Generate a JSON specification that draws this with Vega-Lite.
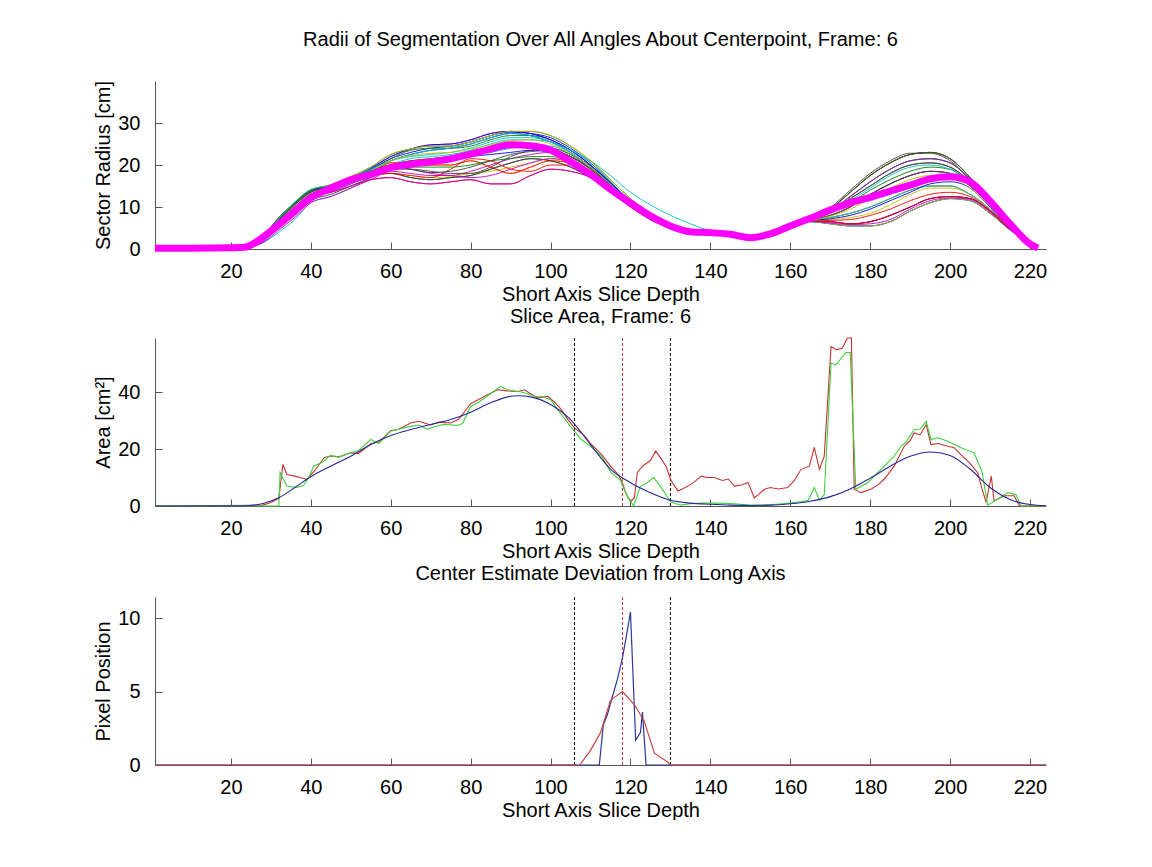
{
  "$schema": "https://vega.github.io/schema/vega-lite/v6.json",
  "background": "white",
  "padding": {"left": 93, "top": 29, "right": 0, "bottom": 0},
  "spacing": 2,
  "config": {
    "font": "Liberation Sans",
    "view": {"stroke": null},
    "axis": {"grid": false, "domainColor": "#555555", "tickColor": "#555555", "tickSize": -7, "labelFontSize": 20, "labelColor": "black", "titleFontSize": 20, "titleFontWeight": "normal", "titleColor": "black", "labelFont": "Liberation Sans", "titleFont": "Liberation Sans"},
    "axisX": {"labelPadding": 19, "titlePadding": 3, "labelFlush": false},
    "axisY": {"labelPadding": 22, "titlePadding": 4},
    "title": {"fontSize": 20, "fontWeight": "normal", "font": "Liberation Sans", "color": "black", "anchor": "middle"}
  },
  "datasets": {
    "radii": [
{"s":1,"x":24,"r":0.3},{"s":1,"x":28,"r":2.5},{"s":1,"x":32,"r":6.5},{"s":1,"x":36,"r":10.5},{"s":1,"x":40,"r":13.5},{"s":1,"x":45,"r":15},{"s":1,"x":50,"r":17},{"s":1,"x":55,"r":19},{"s":1,"x":60,"r":21.5},{"s":1,"x":65,"r":23},{"s":1,"x":70,"r":24},{"s":1,"x":75,"r":24.5},{"s":1,"x":80,"r":25.5},{"s":1,"x":85,"r":27},{"s":1,"x":90,"r":27.8},{"s":1,"x":95,"r":27.5},{"s":1,"x":100,"r":26.5},{"s":1,"x":105,"r":24},{"s":1,"x":110,"r":20.5},{"s":1,"x":115,"r":16},{"s":1,"x":120,"r":11.5},{"s":1,"x":125,"r":8},{"s":1,"x":130,"r":5.5},{"s":1,"x":135,"r":4.3},{"s":1,"x":140,"r":4},{"s":1,"x":150,"r":2.7},{"s":1,"x":160,"r":5.5},{"s":1,"x":165,"r":6.8},{"s":1,"x":170,"r":9.5},{"s":1,"x":175,"r":13.5},{"s":1,"x":180,"r":17.5},{"s":1,"x":185,"r":20.5},{"s":1,"x":190,"r":22.5},{"s":1,"x":195,"r":23},{"s":1,"x":200,"r":21.5},{"s":1,"x":205,"r":17},{"s":1,"x":210,"r":11},{"s":1,"x":215,"r":5.5},{"s":1,"x":222,"r":0.1},
{"s":2,"x":24,"r":0.3},{"s":2,"x":28,"r":3},{"s":2,"x":32,"r":7.2},{"s":2,"x":36,"r":11},{"s":2,"x":40,"r":14},{"s":2,"x":45,"r":15},{"s":2,"x":50,"r":16.8},{"s":2,"x":55,"r":18.8},{"s":2,"x":60,"r":21.5},{"s":2,"x":65,"r":23.5},{"s":2,"x":70,"r":24},{"s":2,"x":75,"r":24},{"s":2,"x":80,"r":24.5},{"s":2,"x":85,"r":26},{"s":2,"x":90,"r":27},{"s":2,"x":95,"r":27},{"s":2,"x":100,"r":26},{"s":2,"x":105,"r":23.5},{"s":2,"x":110,"r":20},{"s":2,"x":115,"r":15.5},{"s":2,"x":120,"r":11},{"s":2,"x":125,"r":7.5},{"s":2,"x":130,"r":5.2},{"s":2,"x":135,"r":4.2},{"s":2,"x":140,"r":4},{"s":2,"x":150,"r":2.7},{"s":2,"x":160,"r":5.4},{"s":2,"x":165,"r":6.8},{"s":2,"x":170,"r":8},{"s":2,"x":175,"r":10},{"s":2,"x":180,"r":13},{"s":2,"x":185,"r":15.5},{"s":2,"x":190,"r":17.5},{"s":2,"x":195,"r":18.5},{"s":2,"x":200,"r":18},{"s":2,"x":205,"r":15},{"s":2,"x":210,"r":10.5},{"s":2,"x":215,"r":5.2},{"s":2,"x":222,"r":0.1},
{"s":3,"x":24,"r":0.3},{"s":3,"x":28,"r":2},{"s":3,"x":32,"r":5.5},{"s":3,"x":36,"r":9},{"s":3,"x":40,"r":12},{"s":3,"x":45,"r":14},{"s":3,"x":50,"r":16},{"s":3,"x":55,"r":18},{"s":3,"x":60,"r":20},{"s":3,"x":65,"r":21},{"s":3,"x":70,"r":21.5},{"s":3,"x":75,"r":22},{"s":3,"x":80,"r":23},{"s":3,"x":85,"r":24},{"s":3,"x":90,"r":25},{"s":3,"x":95,"r":25},{"s":3,"x":100,"r":24},{"s":3,"x":105,"r":22},{"s":3,"x":110,"r":19},{"s":3,"x":115,"r":15},{"s":3,"x":120,"r":11},{"s":3,"x":125,"r":7.5},{"s":3,"x":130,"r":5},{"s":3,"x":135,"r":4.2},{"s":3,"x":140,"r":4},{"s":3,"x":150,"r":2.7},{"s":3,"x":160,"r":5.3},{"s":3,"x":165,"r":6.6},{"s":3,"x":170,"r":6.5},{"s":3,"x":175,"r":6},{"s":3,"x":180,"r":6.5},{"s":3,"x":185,"r":8},{"s":3,"x":190,"r":10},{"s":3,"x":195,"r":12},{"s":3,"x":200,"r":12.5},{"s":3,"x":205,"r":12},{"s":3,"x":210,"r":9},{"s":3,"x":215,"r":4.8},{"s":3,"x":222,"r":0.1},
{"s":4,"x":24,"r":0.3},{"s":4,"x":28,"r":1.5},{"s":4,"x":32,"r":4},{"s":4,"x":36,"r":7},{"s":4,"x":40,"r":11},{"s":4,"x":45,"r":12.5},{"s":4,"x":50,"r":14.5},{"s":4,"x":55,"r":17},{"s":4,"x":60,"r":20},{"s":4,"x":65,"r":21.5},{"s":4,"x":70,"r":22},{"s":4,"x":75,"r":22.5},{"s":4,"x":80,"r":23.5},{"s":4,"x":85,"r":25},{"s":4,"x":90,"r":26},{"s":4,"x":95,"r":26},{"s":4,"x":100,"r":25.5},{"s":4,"x":105,"r":23.5},{"s":4,"x":110,"r":21},{"s":4,"x":115,"r":17.5},{"s":4,"x":120,"r":13.5},{"s":4,"x":125,"r":10.5},{"s":4,"x":130,"r":8},{"s":4,"x":135,"r":6},{"s":4,"x":140,"r":4.3},{"s":4,"x":150,"r":2.7},{"s":4,"x":160,"r":5.4},{"s":4,"x":165,"r":6.8},{"s":4,"x":170,"r":9},{"s":4,"x":175,"r":12.5},{"s":4,"x":180,"r":16},{"s":4,"x":185,"r":19},{"s":4,"x":190,"r":21},{"s":4,"x":195,"r":21.5},{"s":4,"x":200,"r":20.5},{"s":4,"x":205,"r":16.5},{"s":4,"x":210,"r":10.8},{"s":4,"x":215,"r":5.3},{"s":4,"x":222,"r":0.1},
{"s":5,"x":24,"r":0.3},{"s":5,"x":28,"r":1.5},{"s":5,"x":32,"r":4.5},{"s":5,"x":36,"r":7.5},{"s":5,"x":40,"r":11},{"s":5,"x":45,"r":12.5},{"s":5,"x":50,"r":14.5},{"s":5,"x":55,"r":16.5},{"s":5,"x":60,"r":18.5},{"s":5,"x":65,"r":18},{"s":5,"x":70,"r":17.5},{"s":5,"x":75,"r":17.5},{"s":5,"x":80,"r":18.5},{"s":5,"x":85,"r":20},{"s":5,"x":90,"r":21.5},{"s":5,"x":95,"r":22.5},{"s":5,"x":100,"r":23},{"s":5,"x":105,"r":22},{"s":5,"x":110,"r":19.5},{"s":5,"x":115,"r":15.5},{"s":5,"x":120,"r":11},{"s":5,"x":125,"r":7.5},{"s":5,"x":130,"r":5},{"s":5,"x":135,"r":4.2},{"s":5,"x":140,"r":4},{"s":5,"x":150,"r":2.7},{"s":5,"x":160,"r":5.3},{"s":5,"x":165,"r":6.7},{"s":5,"x":170,"r":7.5},{"s":5,"x":175,"r":8.5},{"s":5,"x":180,"r":10},{"s":5,"x":185,"r":12},{"s":5,"x":190,"r":14},{"s":5,"x":195,"r":15},{"s":5,"x":200,"r":15},{"s":5,"x":205,"r":13},{"s":5,"x":210,"r":9.5},{"s":5,"x":215,"r":5},{"s":5,"x":222,"r":0.1},
{"s":6,"x":24,"r":0.3},{"s":6,"x":28,"r":2.5},{"s":6,"x":32,"r":6.5},{"s":6,"x":36,"r":10},{"s":6,"x":40,"r":13},{"s":6,"x":45,"r":14},{"s":6,"x":50,"r":16},{"s":6,"x":55,"r":18},{"s":6,"x":60,"r":20.5},{"s":6,"x":65,"r":20.5},{"s":6,"x":70,"r":20},{"s":6,"x":75,"r":20},{"s":6,"x":80,"r":21},{"s":6,"x":85,"r":19.5},{"s":6,"x":90,"r":18},{"s":6,"x":95,"r":19.5},{"s":6,"x":100,"r":21},{"s":6,"x":105,"r":20.5},{"s":6,"x":110,"r":18},{"s":6,"x":115,"r":14.5},{"s":6,"x":120,"r":10.5},{"s":6,"x":125,"r":7},{"s":6,"x":130,"r":5},{"s":6,"x":135,"r":4.2},{"s":6,"x":140,"r":4},{"s":6,"x":150,"r":2.7},{"s":6,"x":160,"r":5.3},{"s":6,"x":165,"r":6.7},{"s":6,"x":170,"r":7},{"s":6,"x":175,"r":7.5},{"s":6,"x":180,"r":8.5},{"s":6,"x":185,"r":10.5},{"s":6,"x":190,"r":13},{"s":6,"x":195,"r":14.5},{"s":6,"x":200,"r":14.5},{"s":6,"x":205,"r":13},{"s":6,"x":210,"r":9.5},{"s":6,"x":215,"r":5},{"s":6,"x":222,"r":0.1},
{"s":7,"x":24,"r":0.3},{"s":7,"x":28,"r":3},{"s":7,"x":32,"r":7.5},{"s":7,"x":36,"r":11},{"s":7,"x":40,"r":14},{"s":7,"x":45,"r":15},{"s":7,"x":50,"r":16.5},{"s":7,"x":55,"r":17.5},{"s":7,"x":60,"r":18},{"s":7,"x":65,"r":17},{"s":7,"x":70,"r":16.5},{"s":7,"x":75,"r":17},{"s":7,"x":80,"r":17.5},{"s":7,"x":85,"r":19},{"s":7,"x":90,"r":20.5},{"s":7,"x":95,"r":21.5},{"s":7,"x":100,"r":21},{"s":7,"x":105,"r":19.5},{"s":7,"x":110,"r":17},{"s":7,"x":115,"r":14},{"s":7,"x":120,"r":10.5},{"s":7,"x":125,"r":7.5},{"s":7,"x":130,"r":5},{"s":7,"x":135,"r":4.2},{"s":7,"x":140,"r":4},{"s":7,"x":150,"r":2.7},{"s":7,"x":160,"r":5.4},{"s":7,"x":165,"r":6.8},{"s":7,"x":170,"r":9},{"s":7,"x":175,"r":12},{"s":7,"x":180,"r":15},{"s":7,"x":185,"r":18},{"s":7,"x":190,"r":20},{"s":7,"x":195,"r":20.5},{"s":7,"x":200,"r":19.5},{"s":7,"x":205,"r":16},{"s":7,"x":210,"r":11},{"s":7,"x":215,"r":5.4},{"s":7,"x":222,"r":0.1},
{"s":8,"x":24,"r":0.3},{"s":8,"x":28,"r":2.2},{"s":8,"x":32,"r":6.2},{"s":8,"x":36,"r":10},{"s":8,"x":40,"r":13},{"s":8,"x":45,"r":14.5},{"s":8,"x":50,"r":16.5},{"s":8,"x":55,"r":18.5},{"s":8,"x":60,"r":21},{"s":8,"x":65,"r":22.5},{"s":8,"x":70,"r":23.5},{"s":8,"x":75,"r":24},{"s":8,"x":80,"r":25},{"s":8,"x":85,"r":26.5},{"s":8,"x":90,"r":27.5},{"s":8,"x":95,"r":27},{"s":8,"x":100,"r":25.5},{"s":8,"x":105,"r":23},{"s":8,"x":110,"r":19.5},{"s":8,"x":115,"r":15},{"s":8,"x":120,"r":10.8},{"s":8,"x":125,"r":7.3},{"s":8,"x":130,"r":5.1},{"s":8,"x":135,"r":4.2},{"s":8,"x":140,"r":4},{"s":8,"x":150,"r":2.7},{"s":8,"x":160,"r":5.3},{"s":8,"x":165,"r":6.6},{"s":8,"x":170,"r":6.5},{"s":8,"x":175,"r":6},{"s":8,"x":180,"r":6.5},{"s":8,"x":185,"r":8},{"s":8,"x":190,"r":10},{"s":8,"x":195,"r":12},{"s":8,"x":200,"r":12.5},{"s":8,"x":205,"r":12},{"s":8,"x":210,"r":9},{"s":8,"x":215,"r":4.8},{"s":8,"x":222,"r":0.1},
{"s":9,"x":24,"r":0.3},{"s":9,"x":28,"r":2.8},{"s":9,"x":32,"r":7},{"s":9,"x":36,"r":11},{"s":9,"x":40,"r":14},{"s":9,"x":45,"r":15.3},{"s":9,"x":50,"r":17.2},{"s":9,"x":55,"r":19.5},{"s":9,"x":60,"r":22.5},{"s":9,"x":65,"r":23.8},{"s":9,"x":70,"r":24.5},{"s":9,"x":75,"r":24.5},{"s":9,"x":80,"r":25.5},{"s":9,"x":85,"r":27},{"s":9,"x":90,"r":28},{"s":9,"x":95,"r":28},{"s":9,"x":100,"r":27},{"s":9,"x":105,"r":24.5},{"s":9,"x":110,"r":21},{"s":9,"x":115,"r":16.5},{"s":9,"x":120,"r":12},{"s":9,"x":125,"r":8.2},{"s":9,"x":130,"r":5.6},{"s":9,"x":135,"r":4.3},{"s":9,"x":140,"r":4},{"s":9,"x":150,"r":2.7},{"s":9,"x":160,"r":5.4},{"s":9,"x":165,"r":6.8},{"s":9,"x":170,"r":9},{"s":9,"x":175,"r":12.5},{"s":9,"x":180,"r":16},{"s":9,"x":185,"r":19},{"s":9,"x":190,"r":21},{"s":9,"x":195,"r":21.5},{"s":9,"x":200,"r":20.5},{"s":9,"x":205,"r":16.5},{"s":9,"x":210,"r":10.8},{"s":9,"x":215,"r":5.3},{"s":9,"x":222,"r":0.1},
{"s":10,"x":24,"r":0.3},{"s":10,"x":28,"r":2},{"s":10,"x":32,"r":6},{"s":10,"x":36,"r":9.5},{"s":10,"x":40,"r":12.5},{"s":10,"x":45,"r":13.5},{"s":10,"x":50,"r":15},{"s":10,"x":55,"r":16.5},{"s":10,"x":60,"r":17},{"s":10,"x":65,"r":16},{"s":10,"x":70,"r":15.5},{"s":10,"x":75,"r":16},{"s":10,"x":80,"r":16.5},{"s":10,"x":85,"r":15.5},{"s":10,"x":90,"r":15.5},{"s":10,"x":95,"r":17.5},{"s":10,"x":100,"r":19},{"s":10,"x":105,"r":18.5},{"s":10,"x":110,"r":17},{"s":10,"x":115,"r":13.5},{"s":10,"x":120,"r":10},{"s":10,"x":125,"r":7},{"s":10,"x":130,"r":5},{"s":10,"x":135,"r":4.2},{"s":10,"x":140,"r":4},{"s":10,"x":150,"r":2.7},{"s":10,"x":160,"r":5.5},{"s":10,"x":165,"r":6.8},{"s":10,"x":170,"r":9.5},{"s":10,"x":175,"r":13.5},{"s":10,"x":180,"r":17.5},{"s":10,"x":185,"r":20.5},{"s":10,"x":190,"r":22.5},{"s":10,"x":195,"r":23},{"s":10,"x":200,"r":21.5},{"s":10,"x":205,"r":17},{"s":10,"x":210,"r":11},{"s":10,"x":215,"r":5.5},{"s":10,"x":222,"r":0.1},
{"s":11,"x":24,"r":0.3},{"s":11,"x":28,"r":2.5},{"s":11,"x":32,"r":6},{"s":11,"x":36,"r":9.5},{"s":11,"x":40,"r":12.5},{"s":11,"x":45,"r":14},{"s":11,"x":50,"r":15.5},{"s":11,"x":55,"r":17.5},{"s":11,"x":60,"r":19.5},{"s":11,"x":65,"r":20.5},{"s":11,"x":70,"r":21},{"s":11,"x":75,"r":21.5},{"s":11,"x":80,"r":22.5},{"s":11,"x":85,"r":23},{"s":11,"x":90,"r":24},{"s":11,"x":95,"r":24.5},{"s":11,"x":100,"r":24.5},{"s":11,"x":105,"r":22.5},{"s":11,"x":110,"r":19.5},{"s":11,"x":115,"r":15.5},{"s":11,"x":120,"r":11.2},{"s":11,"x":125,"r":7.6},{"s":11,"x":130,"r":5.1},{"s":11,"x":135,"r":4.2},{"s":11,"x":140,"r":4},{"s":11,"x":150,"r":2.7},{"s":11,"x":160,"r":5.2},{"s":11,"x":165,"r":6.5},{"s":11,"x":170,"r":6},{"s":11,"x":175,"r":5.5},{"s":11,"x":180,"r":5.5},{"s":11,"x":185,"r":6.5},{"s":11,"x":190,"r":9},{"s":11,"x":195,"r":11},{"s":11,"x":200,"r":12},{"s":11,"x":205,"r":11.5},{"s":11,"x":210,"r":8.5},{"s":11,"x":215,"r":4.5},{"s":11,"x":222,"r":0.1},
{"s":12,"x":24,"r":0.3},{"s":12,"x":28,"r":2.2},{"s":12,"x":32,"r":6.3},{"s":12,"x":36,"r":10},{"s":12,"x":40,"r":13.2},{"s":12,"x":45,"r":14.8},{"s":12,"x":50,"r":16.8},{"s":12,"x":55,"r":19.2},{"s":12,"x":60,"r":22},{"s":12,"x":65,"r":23.8},{"s":12,"x":70,"r":24.8},{"s":12,"x":75,"r":25},{"s":12,"x":80,"r":26},{"s":12,"x":85,"r":27.5},{"s":12,"x":90,"r":28},{"s":12,"x":95,"r":27.5},{"s":12,"x":100,"r":26},{"s":12,"x":105,"r":23.5},{"s":12,"x":110,"r":20},{"s":12,"x":115,"r":15.8},{"s":12,"x":120,"r":11.3},{"s":12,"x":125,"r":7.8},{"s":12,"x":130,"r":5.4},{"s":12,"x":135,"r":4.3},{"s":12,"x":140,"r":4},{"s":12,"x":150,"r":2.7},{"s":12,"x":160,"r":5.4},{"s":12,"x":165,"r":6.8},{"s":12,"x":170,"r":8},{"s":12,"x":175,"r":10},{"s":12,"x":180,"r":13},{"s":12,"x":185,"r":15.5},{"s":12,"x":190,"r":17.5},{"s":12,"x":195,"r":18.5},{"s":12,"x":200,"r":18},{"s":12,"x":205,"r":15},{"s":12,"x":210,"r":10.5},{"s":12,"x":215,"r":5.2},{"s":12,"x":222,"r":0.1},
{"s":13,"x":24,"r":0.3},{"s":13,"x":28,"r":2.6},{"s":13,"x":32,"r":7},{"s":13,"x":36,"r":10.5},{"s":13,"x":40,"r":13.5},{"s":13,"x":45,"r":14.5},{"s":13,"x":50,"r":16},{"s":13,"x":55,"r":17.2},{"s":13,"x":60,"r":18},{"s":13,"x":65,"r":17.5},{"s":13,"x":70,"r":17},{"s":13,"x":75,"r":17.2},{"s":13,"x":80,"r":18},{"s":13,"x":85,"r":18.5},{"s":13,"x":90,"r":19.5},{"s":13,"x":95,"r":20.5},{"s":13,"x":100,"r":21.5},{"s":13,"x":105,"r":20.5},{"s":13,"x":110,"r":18},{"s":13,"x":115,"r":14.5},{"s":13,"x":120,"r":10.8},{"s":13,"x":125,"r":7.6},{"s":13,"x":130,"r":5.1},{"s":13,"x":135,"r":4.2},{"s":13,"x":140,"r":4},{"s":13,"x":150,"r":2.7},{"s":13,"x":160,"r":5.3},{"s":13,"x":165,"r":6.7},{"s":13,"x":170,"r":7.5},{"s":13,"x":175,"r":8.5},{"s":13,"x":180,"r":10},{"s":13,"x":185,"r":12},{"s":13,"x":190,"r":14},{"s":13,"x":195,"r":15},{"s":13,"x":200,"r":15},{"s":13,"x":205,"r":13},{"s":13,"x":210,"r":9.5},{"s":13,"x":215,"r":5},{"s":13,"x":222,"r":0.1},
{"s":14,"x":24,"r":0.3},{"s":14,"x":28,"r":1.8},{"s":14,"x":32,"r":5},{"s":14,"x":36,"r":8},{"s":14,"x":40,"r":11.5},{"s":14,"x":45,"r":13},{"s":14,"x":50,"r":15},{"s":14,"x":55,"r":17},{"s":14,"x":60,"r":19},{"s":14,"x":65,"r":19},{"s":14,"x":70,"r":18.5},{"s":14,"x":75,"r":18},{"s":14,"x":80,"r":18},{"s":14,"x":85,"r":19.5},{"s":14,"x":90,"r":22},{"s":14,"x":95,"r":23.5},{"s":14,"x":100,"r":24},{"s":14,"x":105,"r":22.5},{"s":14,"x":110,"r":19.8},{"s":14,"x":115,"r":15.8},{"s":14,"x":120,"r":11.2},{"s":14,"x":125,"r":7.6},{"s":14,"x":130,"r":5.1},{"s":14,"x":135,"r":4.2},{"s":14,"x":140,"r":4},{"s":14,"x":150,"r":2.7},{"s":14,"x":160,"r":5.4},{"s":14,"x":165,"r":6.8},{"s":14,"x":170,"r":9},{"s":14,"x":175,"r":12},{"s":14,"x":180,"r":15},{"s":14,"x":185,"r":18},{"s":14,"x":190,"r":20},{"s":14,"x":195,"r":20.5},{"s":14,"x":200,"r":19.5},{"s":14,"x":205,"r":16},{"s":14,"x":210,"r":11},{"s":14,"x":215,"r":5.4},{"s":14,"x":222,"r":0.1},
{"s":15,"x":24,"r":0.3},{"s":15,"x":28,"r":2.2},{"s":15,"x":32,"r":6.3},{"s":15,"x":36,"r":10},{"s":15,"x":40,"r":13.2},{"s":15,"x":45,"r":14.8},{"s":15,"x":50,"r":16.8},{"s":15,"x":55,"r":19.2},{"s":15,"x":60,"r":22},{"s":15,"x":65,"r":23.8},{"s":15,"x":70,"r":24.8},{"s":15,"x":75,"r":25},{"s":15,"x":80,"r":26},{"s":15,"x":85,"r":27.5},{"s":15,"x":90,"r":28},{"s":15,"x":95,"r":27.5},{"s":15,"x":100,"r":26},{"s":15,"x":105,"r":23.5},{"s":15,"x":110,"r":20},{"s":15,"x":115,"r":15.8},{"s":15,"x":120,"r":11.3},{"s":15,"x":125,"r":7.8},{"s":15,"x":130,"r":5.4},{"s":15,"x":135,"r":4.3},{"s":15,"x":140,"r":4},{"s":15,"x":150,"r":2.7},{"s":15,"x":160,"r":5.2},{"s":15,"x":165,"r":6.5},{"s":15,"x":170,"r":6},{"s":15,"x":175,"r":5.5},{"s":15,"x":180,"r":5.5},{"s":15,"x":185,"r":6.5},{"s":15,"x":190,"r":9},{"s":15,"x":195,"r":11},{"s":15,"x":200,"r":12},{"s":15,"x":205,"r":11.5},{"s":15,"x":210,"r":8.5},{"s":15,"x":215,"r":4.5},{"s":15,"x":222,"r":0.1},
{"s":16,"x":24,"r":0.3},{"s":16,"x":28,"r":2},{"s":16,"x":32,"r":5.5},{"s":16,"x":36,"r":9},{"s":16,"x":40,"r":12},{"s":16,"x":45,"r":14},{"s":16,"x":50,"r":16},{"s":16,"x":55,"r":18},{"s":16,"x":60,"r":20},{"s":16,"x":65,"r":21},{"s":16,"x":70,"r":21.5},{"s":16,"x":75,"r":22},{"s":16,"x":80,"r":23},{"s":16,"x":85,"r":24},{"s":16,"x":90,"r":25},{"s":16,"x":95,"r":25},{"s":16,"x":100,"r":24},{"s":16,"x":105,"r":22},{"s":16,"x":110,"r":19},{"s":16,"x":115,"r":15},{"s":16,"x":120,"r":11},{"s":16,"x":125,"r":7.5},{"s":16,"x":130,"r":5},{"s":16,"x":135,"r":4.2},{"s":16,"x":140,"r":4},{"s":16,"x":150,"r":2.7},{"s":16,"x":160,"r":5.5},{"s":16,"x":165,"r":6.8},{"s":16,"x":170,"r":9.5},{"s":16,"x":175,"r":13.5},{"s":16,"x":180,"r":17.5},{"s":16,"x":185,"r":20.5},{"s":16,"x":190,"r":22.5},{"s":16,"x":195,"r":23},{"s":16,"x":200,"r":21.5},{"s":16,"x":205,"r":17},{"s":16,"x":210,"r":11},{"s":16,"x":215,"r":5.5},{"s":16,"x":222,"r":0.1},
{"s":17,"x":24,"r":0.3},{"s":17,"x":28,"r":2.5},{"s":17,"x":32,"r":6.5},{"s":17,"x":36,"r":10},{"s":17,"x":40,"r":13},{"s":17,"x":45,"r":14},{"s":17,"x":50,"r":16},{"s":17,"x":55,"r":18},{"s":17,"x":60,"r":20.5},{"s":17,"x":65,"r":20.5},{"s":17,"x":70,"r":20},{"s":17,"x":75,"r":20},{"s":17,"x":80,"r":21},{"s":17,"x":85,"r":19.5},{"s":17,"x":90,"r":18},{"s":17,"x":95,"r":19.5},{"s":17,"x":100,"r":21},{"s":17,"x":105,"r":20.5},{"s":17,"x":110,"r":18},{"s":17,"x":115,"r":14.5},{"s":17,"x":120,"r":10.5},{"s":17,"x":125,"r":7},{"s":17,"x":130,"r":5},{"s":17,"x":135,"r":4.2},{"s":17,"x":140,"r":4},{"s":17,"x":150,"r":2.7},{"s":17,"x":160,"r":5.3},{"s":17,"x":165,"r":6.6},{"s":17,"x":170,"r":6.5},{"s":17,"x":175,"r":6},{"s":17,"x":180,"r":6.5},{"s":17,"x":185,"r":8},{"s":17,"x":190,"r":10},{"s":17,"x":195,"r":12},{"s":17,"x":200,"r":12.5},{"s":17,"x":205,"r":12},{"s":17,"x":210,"r":9},{"s":17,"x":215,"r":4.8},{"s":17,"x":222,"r":0.1},
{"s":18,"x":24,"r":0.3},{"s":18,"x":28,"r":2.2},{"s":18,"x":32,"r":6.2},{"s":18,"x":36,"r":10},{"s":18,"x":40,"r":13},{"s":18,"x":45,"r":14.5},{"s":18,"x":50,"r":16.5},{"s":18,"x":55,"r":18.5},{"s":18,"x":60,"r":21},{"s":18,"x":65,"r":22.5},{"s":18,"x":70,"r":23.5},{"s":18,"x":75,"r":24},{"s":18,"x":80,"r":25},{"s":18,"x":85,"r":26.5},{"s":18,"x":90,"r":27.5},{"s":18,"x":95,"r":27},{"s":18,"x":100,"r":25.5},{"s":18,"x":105,"r":23},{"s":18,"x":110,"r":19.5},{"s":18,"x":115,"r":15},{"s":18,"x":120,"r":10.8},{"s":18,"x":125,"r":7.3},{"s":18,"x":130,"r":5.1},{"s":18,"x":135,"r":4.2},{"s":18,"x":140,"r":4},{"s":18,"x":150,"r":2.7},{"s":18,"x":160,"r":5.3},{"s":18,"x":165,"r":6.7},{"s":18,"x":170,"r":7.5},{"s":18,"x":175,"r":8.5},{"s":18,"x":180,"r":10},{"s":18,"x":185,"r":12},{"s":18,"x":190,"r":14},{"s":18,"x":195,"r":15},{"s":18,"x":200,"r":15},{"s":18,"x":205,"r":13},{"s":18,"x":210,"r":9.5},{"s":18,"x":215,"r":5},{"s":18,"x":222,"r":0.1},
{"s":19,"x":24,"r":0.3},{"s":19,"x":28,"r":2},{"s":19,"x":32,"r":6},{"s":19,"x":36,"r":9.5},{"s":19,"x":40,"r":12.5},{"s":19,"x":45,"r":13.5},{"s":19,"x":50,"r":15},{"s":19,"x":55,"r":16.5},{"s":19,"x":60,"r":17},{"s":19,"x":65,"r":16},{"s":19,"x":70,"r":15.5},{"s":19,"x":75,"r":16},{"s":19,"x":80,"r":16.5},{"s":19,"x":85,"r":15.5},{"s":19,"x":90,"r":15.5},{"s":19,"x":95,"r":17.5},{"s":19,"x":100,"r":19},{"s":19,"x":105,"r":18.5},{"s":19,"x":110,"r":17},{"s":19,"x":115,"r":13.5},{"s":19,"x":120,"r":10},{"s":19,"x":125,"r":7},{"s":19,"x":130,"r":5},{"s":19,"x":135,"r":4.2},{"s":19,"x":140,"r":4},{"s":19,"x":150,"r":2.7},{"s":19,"x":160,"r":5.4},{"s":19,"x":165,"r":6.8},{"s":19,"x":170,"r":9},{"s":19,"x":175,"r":12.5},{"s":19,"x":180,"r":16},{"s":19,"x":185,"r":19},{"s":19,"x":190,"r":21},{"s":19,"x":195,"r":21.5},{"s":19,"x":200,"r":20.5},{"s":19,"x":205,"r":16.5},{"s":19,"x":210,"r":10.8},{"s":19,"x":215,"r":5.3},{"s":19,"x":222,"r":0.1},
{"s":20,"x":24,"r":0.3},{"s":20,"x":28,"r":2.8},{"s":20,"x":32,"r":7},{"s":20,"x":36,"r":11},{"s":20,"x":40,"r":14},{"s":20,"x":45,"r":15.3},{"s":20,"x":50,"r":17.2},{"s":20,"x":55,"r":19.5},{"s":20,"x":60,"r":22.5},{"s":20,"x":65,"r":23.8},{"s":20,"x":70,"r":24.5},{"s":20,"x":75,"r":24.5},{"s":20,"x":80,"r":25.5},{"s":20,"x":85,"r":27},{"s":20,"x":90,"r":28},{"s":20,"x":95,"r":28},{"s":20,"x":100,"r":27},{"s":20,"x":105,"r":24.5},{"s":20,"x":110,"r":21},{"s":20,"x":115,"r":16.5},{"s":20,"x":120,"r":12},{"s":20,"x":125,"r":8.2},{"s":20,"x":130,"r":5.6},{"s":20,"x":135,"r":4.3},{"s":20,"x":140,"r":4},{"s":20,"x":150,"r":2.7},{"s":20,"x":160,"r":5.2},{"s":20,"x":165,"r":6.5},{"s":20,"x":170,"r":6},{"s":20,"x":175,"r":5.5},{"s":20,"x":180,"r":5.5},{"s":20,"x":185,"r":6.5},{"s":20,"x":190,"r":9},{"s":20,"x":195,"r":11},{"s":20,"x":200,"r":12},{"s":20,"x":205,"r":11.5},{"s":20,"x":210,"r":8.5},{"s":20,"x":215,"r":4.5},{"s":20,"x":222,"r":0.1},
{"s":21,"x":24,"r":0.3},{"s":21,"x":28,"r":3},{"s":21,"x":32,"r":7.5},{"s":21,"x":36,"r":11},{"s":21,"x":40,"r":14},{"s":21,"x":45,"r":15},{"s":21,"x":50,"r":16.5},{"s":21,"x":55,"r":17.5},{"s":21,"x":60,"r":18},{"s":21,"x":65,"r":17},{"s":21,"x":70,"r":16.5},{"s":21,"x":75,"r":17},{"s":21,"x":80,"r":17.5},{"s":21,"x":85,"r":19},{"s":21,"x":90,"r":20.5},{"s":21,"x":95,"r":21.5},{"s":21,"x":100,"r":21},{"s":21,"x":105,"r":19.5},{"s":21,"x":110,"r":17},{"s":21,"x":115,"r":14},{"s":21,"x":120,"r":10.5},{"s":21,"x":125,"r":7.5},{"s":21,"x":130,"r":5},{"s":21,"x":135,"r":4.2},{"s":21,"x":140,"r":4},{"s":21,"x":150,"r":2.7},{"s":21,"x":160,"r":5.4},{"s":21,"x":165,"r":6.8},{"s":21,"x":170,"r":8},{"s":21,"x":175,"r":10},{"s":21,"x":180,"r":13},{"s":21,"x":185,"r":15.5},{"s":21,"x":190,"r":17.5},{"s":21,"x":195,"r":18.5},{"s":21,"x":200,"r":18},{"s":21,"x":205,"r":15},{"s":21,"x":210,"r":10.5},{"s":21,"x":215,"r":5.2},{"s":21,"x":222,"r":0.1},
{"s":22,"x":24,"r":0.3},{"s":22,"x":28,"r":2.4},{"s":22,"x":32,"r":6.8},{"s":22,"x":36,"r":10.5},{"s":22,"x":40,"r":13.5},{"s":22,"x":45,"r":14.8},{"s":22,"x":50,"r":16.5},{"s":22,"x":55,"r":18.2},{"s":22,"x":60,"r":19.5},{"s":22,"x":65,"r":20},{"s":22,"x":70,"r":20.5},{"s":22,"x":75,"r":21},{"s":22,"x":80,"r":22},{"s":22,"x":85,"r":22.5},{"s":22,"x":90,"r":23},{"s":22,"x":95,"r":23.5},{"s":22,"x":100,"r":23},{"s":22,"x":105,"r":21.5},{"s":22,"x":110,"r":18.5},{"s":22,"x":115,"r":14.8},{"s":22,"x":120,"r":10.8},{"s":22,"x":125,"r":7.4},{"s":22,"x":130,"r":5},{"s":22,"x":135,"r":4.2},{"s":22,"x":140,"r":4},{"s":22,"x":150,"r":2.7},{"s":22,"x":160,"r":5.3},{"s":22,"x":165,"r":6.7},{"s":22,"x":170,"r":7.2},{"s":22,"x":175,"r":8},{"s":22,"x":180,"r":9.5},{"s":22,"x":185,"r":11.5},{"s":22,"x":190,"r":13.5},{"s":22,"x":195,"r":15.5},{"s":22,"x":200,"r":16},{"s":22,"x":205,"r":14.5},{"s":22,"x":210,"r":10},{"s":22,"x":215,"r":5},{"s":22,"x":222,"r":0.1},
{"s":23,"x":24,"r":0.3},{"s":23,"x":28,"r":2.7},{"s":23,"x":32,"r":7},{"s":23,"x":36,"r":11},{"s":23,"x":40,"r":13.8},{"s":23,"x":45,"r":15},{"s":23,"x":50,"r":16.8},{"s":23,"x":55,"r":18},{"s":23,"x":60,"r":19},{"s":23,"x":65,"r":19.5},{"s":23,"x":70,"r":19.5},{"s":23,"x":75,"r":19.5},{"s":23,"x":80,"r":20},{"s":23,"x":85,"r":21},{"s":23,"x":90,"r":21.5},{"s":23,"x":95,"r":22},{"s":23,"x":100,"r":22},{"s":23,"x":105,"r":21},{"s":23,"x":110,"r":18.5},{"s":23,"x":115,"r":15},{"s":23,"x":120,"r":11},{"s":23,"x":125,"r":7.5},{"s":23,"x":130,"r":5},{"s":23,"x":135,"r":4.2},{"s":23,"x":140,"r":4},{"s":23,"x":150,"r":2.7},{"s":23,"x":160,"r":5.4},{"s":23,"x":165,"r":6.8},{"s":23,"x":170,"r":8.5},{"s":23,"x":175,"r":11},{"s":23,"x":180,"r":14},{"s":23,"x":185,"r":16.5},{"s":23,"x":190,"r":18.5},{"s":23,"x":195,"r":19.5},{"s":23,"x":200,"r":19},{"s":23,"x":205,"r":15.5},{"s":23,"x":210,"r":10.5},{"s":23,"x":215,"r":5.2},{"s":23,"x":222,"r":0.1},
{"s":24,"x":24,"r":0.3},{"s":24,"x":28,"r":2},{"s":24,"x":32,"r":6},{"s":24,"x":36,"r":9.8},{"s":24,"x":40,"r":12.8},{"s":24,"x":45,"r":14.2},{"s":24,"x":50,"r":16},{"s":24,"x":55,"r":17.5},{"s":24,"x":60,"r":18},{"s":24,"x":65,"r":17.5},{"s":24,"x":70,"r":17},{"s":24,"x":75,"r":19},{"s":24,"x":80,"r":21.5},{"s":24,"x":85,"r":21},{"s":24,"x":90,"r":19},{"s":24,"x":95,"r":18.5},{"s":24,"x":100,"r":20},{"s":24,"x":105,"r":20},{"s":24,"x":110,"r":17.5},{"s":24,"x":115,"r":14},{"s":24,"x":120,"r":10.5},{"s":24,"x":125,"r":7.3},{"s":24,"x":130,"r":5},{"s":24,"x":135,"r":4.2},{"s":24,"x":140,"r":4},{"s":24,"x":150,"r":2.7},{"s":24,"x":160,"r":5.3},{"s":24,"x":165,"r":6.6},{"s":24,"x":170,"r":6.8},{"s":24,"x":175,"r":7},{"s":24,"x":180,"r":8},{"s":24,"x":185,"r":9.5},{"s":24,"x":190,"r":11.5},{"s":24,"x":195,"r":13},{"s":24,"x":200,"r":13.5},{"s":24,"x":205,"r":12.5},{"s":24,"x":210,"r":9.2},{"s":24,"x":215,"r":4.9},{"s":24,"x":222,"r":0.1},
{"s":25,"x":24,"r":0.3},{"s":25,"x":28,"r":2.9},{"s":25,"x":32,"r":7.3},{"s":25,"x":36,"r":11.2},{"s":25,"x":40,"r":14.2},{"s":25,"x":45,"r":15.2},{"s":25,"x":50,"r":17},{"s":25,"x":55,"r":19},{"s":25,"x":60,"r":21},{"s":25,"x":65,"r":22},{"s":25,"x":70,"r":22.5},{"s":25,"x":75,"r":23},{"s":25,"x":80,"r":24},{"s":25,"x":85,"r":25.5},{"s":25,"x":90,"r":26.5},{"s":25,"x":95,"r":26.5},{"s":25,"x":100,"r":25.5},{"s":25,"x":105,"r":23.5},{"s":25,"x":110,"r":20.5},{"s":25,"x":115,"r":16},{"s":25,"x":120,"r":11.5},{"s":25,"x":125,"r":7.8},{"s":25,"x":130,"r":5.3},{"s":25,"x":135,"r":4.2},{"s":25,"x":140,"r":4},{"s":25,"x":150,"r":2.7},{"s":25,"x":160,"r":5.4},{"s":25,"x":165,"r":6.8},{"s":25,"x":170,"r":8.8},{"s":25,"x":175,"r":11.5},{"s":25,"x":180,"r":14.5},{"s":25,"x":185,"r":17.5},{"s":25,"x":190,"r":19.5},{"s":25,"x":195,"r":20},{"s":25,"x":200,"r":19},{"s":25,"x":205,"r":15.5},{"s":25,"x":210,"r":10.8},{"s":25,"x":215,"r":5.3},{"s":25,"x":222,"r":0.1},
{"s":26,"x":24,"r":0.3},{"s":26,"x":28,"r":1.8},{"s":26,"x":32,"r":5.2},{"s":26,"x":36,"r":8.5},{"s":26,"x":40,"r":11.8},{"s":26,"x":45,"r":13.5},{"s":26,"x":50,"r":15.5},{"s":26,"x":55,"r":17.5},{"s":26,"x":60,"r":19.5},{"s":26,"x":65,"r":19},{"s":26,"x":70,"r":18},{"s":26,"x":75,"r":17.5},{"s":26,"x":80,"r":17},{"s":26,"x":85,"r":17.5},{"s":26,"x":90,"r":19},{"s":26,"x":95,"r":20.5},{"s":26,"x":100,"r":21.5},{"s":26,"x":105,"r":21},{"s":26,"x":110,"r":18.5},{"s":26,"x":115,"r":14.8},{"s":26,"x":120,"r":10.8},{"s":26,"x":125,"r":7.4},{"s":26,"x":130,"r":5},{"s":26,"x":135,"r":4.2},{"s":26,"x":140,"r":4},{"s":26,"x":150,"r":2.7},{"s":26,"x":160,"r":5.3},{"s":26,"x":165,"r":6.6},{"s":26,"x":170,"r":6.2},{"s":26,"x":175,"r":5.8},{"s":26,"x":180,"r":6},{"s":26,"x":185,"r":7},{"s":26,"x":190,"r":9.5},{"s":26,"x":195,"r":11.5},{"s":26,"x":200,"r":12.2},{"s":26,"x":205,"r":11.8},{"s":26,"x":210,"r":8.8},{"s":26,"x":215,"r":4.6},{"s":26,"x":222,"r":0.1},
{"s":27,"x":24,"r":0.3},{"s":27,"x":28,"r":2.3},{"s":27,"x":32,"r":6.6},{"s":27,"x":36,"r":10.3},{"s":27,"x":40,"r":13.3},{"s":27,"x":45,"r":14.6},{"s":27,"x":50,"r":16.3},{"s":27,"x":55,"r":18.5},{"s":27,"x":60,"r":21},{"s":27,"x":65,"r":22.2},{"s":27,"x":70,"r":22.8},{"s":27,"x":75,"r":23},{"s":27,"x":80,"r":23.8},{"s":27,"x":85,"r":24.8},{"s":27,"x":90,"r":25.8},{"s":27,"x":95,"r":26},{"s":27,"x":100,"r":25},{"s":27,"x":105,"r":22.8},{"s":27,"x":110,"r":19.5},{"s":27,"x":115,"r":15.3},{"s":27,"x":120,"r":11},{"s":27,"x":125,"r":7.5},{"s":27,"x":130,"r":5.1},{"s":27,"x":135,"r":4.2},{"s":27,"x":140,"r":4},{"s":27,"x":150,"r":2.7},{"s":27,"x":160,"r":5.4},{"s":27,"x":165,"r":6.7},{"s":27,"x":170,"r":7.8},{"s":27,"x":175,"r":9.5},{"s":27,"x":180,"r":12},{"s":27,"x":185,"r":14.5},{"s":27,"x":190,"r":16.5},{"s":27,"x":195,"r":17.5},{"s":27,"x":200,"r":17},{"s":27,"x":205,"r":14.5},{"s":27,"x":210,"r":10.2},{"s":27,"x":215,"r":5.1},{"s":27,"x":222,"r":0.1},
{"s":28,"x":24,"r":0.3},{"s":28,"x":28,"r":2.6},{"s":28,"x":32,"r":6.9},{"s":28,"x":36,"r":10.7},{"s":28,"x":40,"r":13.7},{"s":28,"x":45,"r":14.9},{"s":28,"x":50,"r":16.7},{"s":28,"x":55,"r":18.5},{"s":28,"x":60,"r":20},{"s":28,"x":65,"r":19},{"s":28,"x":70,"r":18.2},{"s":28,"x":75,"r":18.5},{"s":28,"x":80,"r":19.5},{"s":28,"x":85,"r":21},{"s":28,"x":90,"r":22.5},{"s":28,"x":95,"r":23.2},{"s":28,"x":100,"r":23.5},{"s":28,"x":105,"r":22},{"s":28,"x":110,"r":19.2},{"s":28,"x":115,"r":15.2},{"s":28,"x":120,"r":11},{"s":28,"x":125,"r":7.5},{"s":28,"x":130,"r":5},{"s":28,"x":135,"r":4.2},{"s":28,"x":140,"r":4},{"s":28,"x":150,"r":2.7},{"s":28,"x":160,"r":5.5},{"s":28,"x":165,"r":6.8},{"s":28,"x":170,"r":9.8},{"s":28,"x":175,"r":14},{"s":28,"x":180,"r":18},{"s":28,"x":185,"r":21},{"s":28,"x":190,"r":22.8},{"s":28,"x":195,"r":22.8},{"s":28,"x":200,"r":21},{"s":28,"x":205,"r":16.5},{"s":28,"x":210,"r":11},{"s":28,"x":215,"r":5.4},{"s":28,"x":222,"r":0.1}
    ],
    "mean": [
{"x":1,"r":0.2},{"x":10,"r":0.2},{"x":20,"r":0.3},{"x":23.5,"r":0.4},{"x":26,"r":1.5},{"x":30,"r":4.3},{"x":35,"r":8.2},{"x":40,"r":12.2},{"x":45,"r":14.5},{"x":50,"r":16.5},{"x":55,"r":17.7},{"x":60,"r":19.4},{"x":65,"r":20.2},{"x":70,"r":20.7},{"x":75,"r":21.5},{"x":80,"r":22.6},{"x":85,"r":23.8},{"x":90,"r":24.8},{"x":95,"r":24.6},{"x":100,"r":23.6},{"x":105,"r":20.8},{"x":110,"r":17.8},{"x":115,"r":14.2},{"x":120,"r":11},{"x":125,"r":7.9},{"x":130,"r":5.5},{"x":135,"r":4.1},{"x":140,"r":3.9},{"x":145,"r":3.5},{"x":150,"r":2.7},{"x":155,"r":3.6},{"x":160,"r":5.5},{"x":165,"r":7.3},{"x":170,"r":9.3},{"x":175,"r":11},{"x":180,"r":12.3},{"x":185,"r":13.8},{"x":190,"r":15.2},{"x":195,"r":16.7},{"x":200,"r":17.2},{"x":205,"r":16},{"x":210,"r":11.4},{"x":215,"r":6},{"x":220,"r":1.2},{"x":222,"r":0.2}
    ],
    "bounds": [{"x":106},{"x":130}],
    "center": [{"x":118}],
    "areaRed": [
{"x":1,"a":0},{"x":28,"a":0.3},{"x":30,"a":1.2},{"x":32,"a":2.8},{"x":33,"a":14.6},{"x":34,"a":11.1},{"x":36,"a":10.5},{"x":37.3,"a":10},{"x":39,"a":9.4},{"x":41,"a":12.5},{"x":43.3,"a":17},{"x":45,"a":17.6},{"x":47,"a":17.3},{"x":50,"a":18.7},{"x":52,"a":18.5},{"x":55,"a":21.9},{"x":57,"a":22.5},{"x":60,"a":26.5},{"x":62,"a":27},{"x":65,"a":29.2},{"x":67,"a":29.8},{"x":70,"a":28.5},{"x":72,"a":29.5},{"x":75,"a":29.2},{"x":77,"a":30.5},{"x":80,"a":36},{"x":82,"a":37.5},{"x":84,"a":39},{"x":86.7,"a":40.9},{"x":89,"a":40.5},{"x":91.8,"a":40.3},{"x":93.5,"a":40.9},{"x":95,"a":39.5},{"x":96.8,"a":38},{"x":99.3,"a":38.6},{"x":101,"a":36.5},{"x":102.7,"a":33.9},{"x":104,"a":31},{"x":106,"a":27.5},{"x":108.6,"a":24.6},{"x":110,"a":22},{"x":112.8,"a":18.1},{"x":115,"a":14},{"x":117,"a":11},{"x":118,"a":8},{"x":119,"a":4},{"x":120,"a":1.5},{"x":121,"a":3},{"x":121.7,"a":11.7},{"x":123,"a":14},{"x":124.2,"a":15.2},{"x":125,"a":16},{"x":126.3,"a":19.3},{"x":127.5,"a":17},{"x":128.9,"a":14},{"x":130.2,"a":8.8},{"x":131.9,"a":5.3},{"x":133,"a":6},{"x":134.4,"a":7},{"x":136,"a":8.5},{"x":137.7,"a":10.5},{"x":139,"a":10},{"x":141,"a":10},{"x":143,"a":9},{"x":144.5,"a":9.5},{"x":146,"a":7},{"x":148,"a":7.5},{"x":149.4,"a":8.3},{"x":151,"a":2.9},{"x":152,"a":4},{"x":153.6,"a":5.9},{"x":155,"a":6.5},{"x":157,"a":6},{"x":159.4,"a":6.5},{"x":161,"a":9},{"x":162.7,"a":12.9},{"x":164.8,"a":14},{"x":166,"a":20.6},{"x":167.3,"a":12.9},{"x":168.5,"a":17.5},{"x":170.2,"a":56.1},{"x":171.5,"a":55},{"x":173,"a":55.5},{"x":174.3,"a":59.1},{"x":175.3,"a":59.1},{"x":176,"a":5.9},{"x":177.7,"a":4.7},{"x":180.2,"a":5.9},{"x":182,"a":7.5},{"x":183.5,"a":9.4},{"x":186,"a":14},{"x":188.5,"a":21},{"x":190,"a":23},{"x":191,"a":25.7},{"x":192.5,"a":25},{"x":194,"a":28.7},{"x":195.2,"a":21.6},{"x":197,"a":22},{"x":199.4,"a":21},{"x":201,"a":20.5},{"x":202.7,"a":18.1},{"x":205,"a":15},{"x":206.9,"a":11.7},{"x":208,"a":6},{"x":209,"a":1.3},{"x":210.3,"a":10.5},{"x":211,"a":1.8},{"x":212,"a":2.5},{"x":213.6,"a":3.6},{"x":216,"a":3.6},{"x":217.4,"a":0},{"x":224,"a":0}
    ],
    "areaGreen": [
{"x":1,"a":0},{"x":32,"a":0},{"x":32.3,"a":11.7},{"x":34,"a":7},{"x":36.5,"a":6.5},{"x":38.2,"a":7.3},{"x":39.5,"a":10},{"x":40.7,"a":14},{"x":43,"a":15.5},{"x":44.9,"a":17.8},{"x":47,"a":17.2},{"x":50,"a":18.7},{"x":52,"a":19.5},{"x":55,"a":23.4},{"x":57,"a":22},{"x":60,"a":26.3},{"x":62,"a":27},{"x":65,"a":28},{"x":67,"a":28.5},{"x":69.2,"a":27},{"x":71,"a":28},{"x":73.4,"a":28.7},{"x":76.8,"a":28.3},{"x":78,"a":29},{"x":80,"a":35},{"x":82,"a":36.5},{"x":84,"a":38.5},{"x":87.5,"a":42.1},{"x":89,"a":41},{"x":91.8,"a":40.3},{"x":93,"a":40},{"x":96,"a":38.6},{"x":98,"a":38.5},{"x":100,"a":37.4},{"x":102.7,"a":32.1},{"x":105,"a":28},{"x":107.7,"a":23.4},{"x":110,"a":21},{"x":112.8,"a":17.5},{"x":115,"a":12},{"x":117.5,"a":9},{"x":119,"a":4},{"x":120.8,"a":0},{"x":122.5,"a":7},{"x":124,"a":8},{"x":125.8,"a":10},{"x":127.5,"a":7},{"x":130,"a":1.5},{"x":132.5,"a":0.3},{"x":135,"a":0.8},{"x":138,"a":1},{"x":142,"a":1},{"x":146,"a":0.8},{"x":150,"a":0.3},{"x":154,"a":0.3},{"x":158,"a":0.8},{"x":162.7,"a":1.5},{"x":164.5,"a":2},{"x":166,"a":6.5},{"x":167.3,"a":2},{"x":168.5,"a":4},{"x":170.2,"a":50.3},{"x":171.4,"a":49.6},{"x":173.9,"a":54},{"x":175,"a":54},{"x":176.4,"a":5.9},{"x":179.3,"a":8.2},{"x":181,"a":10.5},{"x":183.5,"a":14},{"x":186,"a":17.5},{"x":187.7,"a":21},{"x":189,"a":22.5},{"x":191,"a":26.9},{"x":192.5,"a":27},{"x":194,"a":29.8},{"x":195.2,"a":23.4},{"x":197,"a":24},{"x":199.4,"a":22.8},{"x":202.7,"a":20.5},{"x":206,"a":18.7},{"x":208,"a":12},{"x":209.4,"a":0.3},{"x":211.9,"a":2.4},{"x":214.4,"a":4.7},{"x":216.5,"a":4},{"x":217.7,"a":0},{"x":224,"a":0}
    ],
    "areaBlue": [
{"x":1,"a":0},{"x":20,"a":0},{"x":24,"a":0.1},{"x":28,"a":0.9},{"x":32,"a":2.9},{"x":36,"a":6.5},{"x":40,"a":10.3},{"x":45,"a":14},{"x":50,"a":17.5},{"x":55,"a":21.6},{"x":60,"a":24.8},{"x":65,"a":26.9},{"x":70,"a":28.7},{"x":75,"a":30.4},{"x":80,"a":33},{"x":85,"a":36.3},{"x":90,"a":38.6},{"x":92,"a":38.8},{"x":95,"a":38.4},{"x":100,"a":35.7},{"x":105,"a":30.4},{"x":110,"a":21.6},{"x":115,"a":13},{"x":120,"a":8.2},{"x":125,"a":4.7},{"x":130,"a":2},{"x":135,"a":1},{"x":140,"a":0.6},{"x":145,"a":0.3},{"x":150,"a":0.2},{"x":155,"a":0.3},{"x":160,"a":0.8},{"x":165,"a":1.7},{"x":170,"a":3.3},{"x":175,"a":6},{"x":180,"a":9.8},{"x":185,"a":14},{"x":190,"a":17.5},{"x":195,"a":19},{"x":200,"a":17.8},{"x":205,"a":13},{"x":210,"a":6.5},{"x":215,"a":2.3},{"x":220,"a":0.5},{"x":224,"a":0.1}
    ],
    "devRed": [
{"x":1,"p":0},{"x":107.3,"p":0},{"x":110,"p":1},{"x":112.5,"p":2.2},{"x":113.3,"p":2.9},{"x":115,"p":4.4},{"x":116,"p":4.6},{"x":118,"p":5},{"x":121,"p":4.1},{"x":123.4,"p":3},{"x":126,"p":0.8},{"x":129.3,"p":0.2},{"x":130,"p":0},{"x":224,"p":0}
    ],
    "devBlue": [
{"x":1,"p":0},{"x":112.2,"p":0},{"x":113.2,"p":2.7},{"x":114.2,"p":3.4},{"x":115,"p":4.2},{"x":116.7,"p":5.8},{"x":118,"p":7.3},{"x":119,"p":8.8},{"x":120,"p":10.4},{"x":121.3,"p":1.7},{"x":122.5,"p":2.2},{"x":123,"p":3.6},{"x":123.9,"p":0},{"x":224,"p":0}
    ]
  },
  "vconcat": [
    {
      "width": 891, "height": 168,
      "title": {"text": "Radii of Segmentation Over All Angles About Centerpoint, Frame: 6", "offset": 31},
      "encoding": {
        "x": {"field": "x", "type": "quantitative", "scale": {"domain": [1, 224], "nice": false, "zero": false},
              "axis": {"values": [20,40,60,80,100,120,140,160,180,200,220], "title": "Short Axis Slice Depth"}},
        "y": {"field": "r", "type": "quantitative", "scale": {"domain": [0, 40], "nice": false},
              "axis": {"values": [0,10,20,30], "title": "Sector Radius [cm]"}}
      },
      "layer": [
        {"data": {"name": "radii"}, "mark": {"type": "line", "strokeWidth": 0.9, "interpolate": "monotone"},
         "encoding": {"color": {"field": "s", "type": "nominal", "legend": null,
           "scale": {"domain": [1,2,3,4,5,6,7,8,9,10,11,12,13,14,15,16,17,18,19,20,21,22,23,24,25,26,27,28],
                     "range": ["#0000FF","#008000","#FF0000","#00BFBF","#BF00BF","#BFBF00","#404040","#0000FF","#008000","#FF0000","#00BFBF","#BF00BF","#BFBF00","#404040","#0000FF","#008000","#FF0000","#00BFBF","#BF00BF","#BFBF00","#404040","#0000FF","#008000","#FF0000","#00BFBF","#BF00BF","#BFBF00","#404040"]}}}},
        {"data": {"name": "mean"}, "mark": {"type": "line", "color": "#FF00FF", "strokeWidth": 7, "interpolate": "monotone"}}
      ]
    },
    {
      "width": 891, "height": 168,
      "title": {"text": "Slice Area, Frame: 6", "offset": 9},
      "encoding": {
        "x": {"field": "x", "type": "quantitative", "scale": {"domain": [1, 224], "nice": false, "zero": false},
              "axis": {"values": [20,40,60,80,100,120,140,160,180,200,220], "title": "Short Axis Slice Depth"}}
      },
      "layer": [
        {"data": {"name": "bounds"}, "mark": {"type": "rule", "color": "black", "strokeDash": [3, 2], "strokeWidth": 1}},
        {"data": {"name": "center"}, "mark": {"type": "rule", "color": "#CC3333", "strokeDash": [3, 2], "strokeWidth": 1}},
        {"data": {"name": "areaRed"}, "mark": {"type": "line", "color": "#C83232", "strokeWidth": 1.1},
         "encoding": {"y": {"field": "a", "type": "quantitative", "scale": {"domain": [0, 59.1], "nice": false}, "axis": {"values": [0,20,40], "title": "Area [cm²]"}}}},
        {"data": {"name": "areaGreen"}, "mark": {"type": "line", "color": "#3CD23C", "strokeWidth": 1.1},
         "encoding": {"y": {"field": "a", "type": "quantitative"}}},
        {"data": {"name": "areaBlue"}, "mark": {"type": "line", "color": "#262696", "strokeWidth": 1.1, "interpolate": "monotone"},
         "encoding": {"y": {"field": "a", "type": "quantitative"}}}
      ]
    },
    {
      "width": 891, "height": 168,
      "title": {"text": "Center Estimate Deviation from Long Axis", "offset": 13},
      "encoding": {
        "x": {"field": "x", "type": "quantitative", "scale": {"domain": [1, 224], "nice": false, "zero": false},
              "axis": {"values": [20,40,60,80,100,120,140,160,180,200,220], "title": "Short Axis Slice Depth"}}
      },
      "layer": [
        {"data": {"name": "bounds"}, "mark": {"type": "rule", "color": "black", "strokeDash": [3, 2], "strokeWidth": 1}},
        {"data": {"name": "center"}, "mark": {"type": "rule", "color": "#CC3333", "strokeDash": [3, 2], "strokeWidth": 1}},
        {"data": {"name": "devBlue"}, "mark": {"type": "line", "color": "#2B3A9A", "strokeWidth": 1.2},
         "encoding": {"y": {"field": "p", "type": "quantitative", "scale": {"domain": [0, 11.43], "nice": false}, "axis": {"values": [0,5,10], "title": "Pixel Position"}}}},
        {"data": {"name": "devRed"}, "mark": {"type": "line", "color": "#CC4444", "strokeWidth": 1.2},
         "encoding": {"y": {"field": "p", "type": "quantitative"}}}
      ]
    }
  ]
}
